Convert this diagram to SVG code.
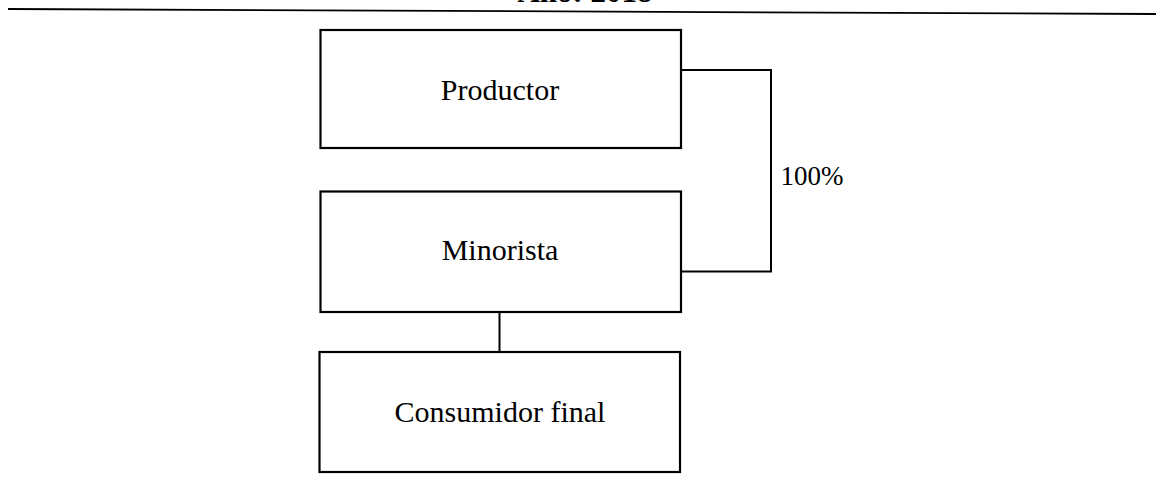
<svg xmlns="http://www.w3.org/2000/svg" width="1156" height="485" viewBox="0 0 1156 485">
<style>
.box{fill:#fff;stroke:#000;stroke-width:2.2}
.ln{fill:none;stroke:#000;stroke-width:2}
.t{font-family:"Liberation Serif","Times New Roman",serif;font-size:30px;fill:#000;text-anchor:middle}
</style>
<rect width="1156" height="485" fill="#fff"/>
<text x="585" y="2" class="t" style="font-weight:bold;font-size:31px">Año: 2018</text>
<line x1="8" y1="9" x2="1156" y2="14" stroke="#000" stroke-width="1.8"/>
<g id="connectors">
<polyline class="ln" points="681,70 771,70 771,271.5 681,271.5"/>
<line class="ln" x1="499.5" y1="312" x2="499.5" y2="352"/>
<text x="812" y="185" class="t" style="font-size:27px">100%</text>
</g>
<g id="productor">
<rect class="box" x="320.5" y="30" width="360.5" height="118"/>
<text x="500" y="100" class="t">Productor</text>
</g>
<g id="minorista">
<rect class="box" x="320.5" y="191.5" width="360.5" height="120.5"/>
<text x="500" y="260" class="t">Minorista</text>
</g>
<g id="consumidor">
<rect class="box" x="319.5" y="352" width="360.5" height="120"/>
<text x="500" y="422" class="t">Consumidor final</text>
</g>
</svg>
